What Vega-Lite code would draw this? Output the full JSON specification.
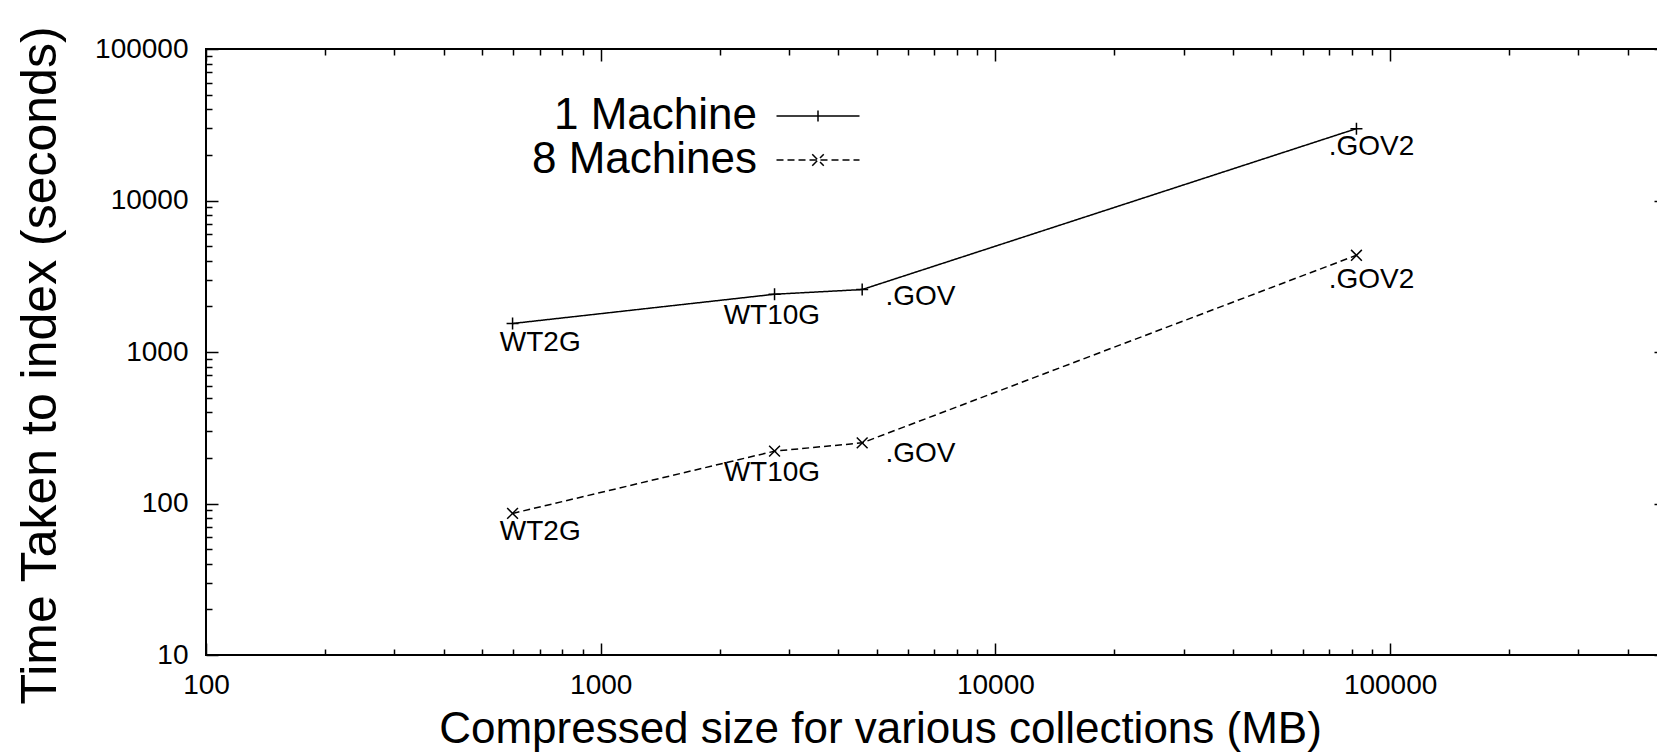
{
  "$schema": "https://vega.github.io/schema/vega-lite/v6.json",
  "width": 1460,
  "height": 606,
  "autosize": {"type": "none"},
  "padding": {"left": 206, "top": 49, "right": -9, "bottom": 99},
  "background": "white",
  "config": {
    "font": "Liberation Sans",
    "view": {"stroke": "black", "strokeWidth": 2},
    "axis": {
      "grid": false,
      "labelColor": "black",
      "titleColor": "black",
      "tickColor": "black",
      "labelFont": "Liberation Sans",
      "titleFont": "Liberation Sans",
      "titleFontWeight": "normal",
      "labelFlush": false,
      "labelOverlap": false,
      "labelBound": false
    }
  },
  "datasets": {
    "series": [
      {"machines": "1 Machine", "size": 598, "time": 1542},
      {"machines": "1 Machine", "size": 2757, "time": 2406},
      {"machines": "1 Machine", "size": 4597, "time": 2584},
      {"machines": "1 Machine", "size": 82170, "time": 29810},
      {"machines": "8 Machines", "size": 598, "time": 86},
      {"machines": "8 Machines", "size": 2757, "time": 221.6},
      {"machines": "8 Machines", "size": 4597, "time": 251.4},
      {"machines": "8 Machines", "size": 82170, "time": 4350}
    ],
    "labels": [
      {"name": "WT2G", "size": 555, "time": 1012},
      {"name": "WT10G", "size": 2049, "time": 1542},
      {"name": ".GOV", "size": 5266, "time": 2036},
      {"name": ".GOV2", "size": 69880, "time": 19870},
      {"name": "WT2G", "size": 555, "time": 57.4},
      {"name": "WT10G", "size": 2049, "time": 140.5},
      {"name": ".GOV", "size": 5266, "time": 188.4},
      {"name": ".GOV2", "size": 69880, "time": 2665}
    ]
  },
  "resolve": {
    "axis": {"x": "independent", "y": "independent"},
    "scale": {"shape": "independent", "strokeDash": "independent"}
  },
  "layer": [
    {
      "data": {"name": "series"},
      "mark": {"type": "line", "stroke": "black", "strokeWidth": 1.5},
      "encoding": {
        "x": {
          "field": "size", "type": "quantitative",
          "scale": {"type": "log", "domain": [100, 500000], "nice": false},
          "axis": {
            "orient": "bottom", "values": [100, 1000, 10000, 100000], "format": "d",
            "ticks": false, "domain": false, "labelFontSize": 28, "labelPadding": 16,
            "title": "Compressed size for various collections (MB)",
            "titleFontSize": 44, "titleX": 674, "titleY": 87,
            "titleBaseline": "alphabetic", "titleAlign": "center"
          }
        },
        "y": {
          "field": "time", "type": "quantitative",
          "scale": {"type": "log", "domain": [10, 100000], "nice": false},
          "axis": {
            "orient": "left", "values": [10, 100, 1000, 10000, 100000], "format": "d",
            "ticks": false, "domain": false, "labelFontSize": 28, "labelPadding": 18,
            "title": "Time Taken to index (seconds)",
            "titleFontSize": 50, "titleX": -151, "titleY": 316, "titleAngle": -90,
            "titleBaseline": "alphabetic", "titleAlign": "center"
          }
        },
        "strokeDash": {
          "field": "machines", "type": "nominal",
          "scale": {"domain": ["1 Machine", "8 Machines"], "range": [[1, 0], [7, 4]]},
          "legend": null
        }
      }
    },
    {
      "data": {"name": "series"},
      "mark": {"type": "point", "filled": false, "stroke": "black", "strokeWidth": 1.5, "size": 144, "opacity": 1},
      "encoding": {
        "x": {
          "field": "size", "type": "quantitative",
          "scale": {"type": "log", "domain": [100, 500000], "nice": false},
          "axis": {
            "orient": "bottom",
            "values": [100, 200, 300, 400, 500, 600, 700, 800, 900, 1000, 2000, 3000, 4000, 5000, 6000, 7000, 8000, 9000, 10000, 20000, 30000, 40000, 50000, 60000, 70000, 80000, 90000, 100000, 200000, 300000, 400000, 500000],
            "labels": false, "domain": false, "ticks": true, "title": null,
            "tickWidth": 1.5,
            "tickSize": {"condition": {"test": "abs(log(datum.value)/LN10 - round(log(datum.value)/LN10)) < 0.001", "value": -12}, "value": -6}
          }
        },
        "y": {
          "field": "time", "type": "quantitative",
          "scale": {"type": "log", "domain": [10, 100000], "nice": false},
          "axis": {
            "orient": "left",
            "values": [10, 20, 30, 40, 50, 60, 70, 80, 90, 100, 200, 300, 400, 500, 600, 700, 800, 900, 1000, 2000, 3000, 4000, 5000, 6000, 7000, 8000, 9000, 10000, 20000, 30000, 40000, 50000, 60000, 70000, 80000, 90000, 100000],
            "labels": false, "domain": false, "ticks": true, "title": null,
            "tickWidth": 1.5,
            "tickSize": {"condition": {"test": "abs(log(datum.value)/LN10 - round(log(datum.value)/LN10)) < 0.001", "value": -12}, "value": -6}
          }
        },
        "shape": {
          "field": "machines", "type": "nominal",
          "scale": {"domain": ["1 Machine", "8 Machines"], "range": ["M-1,0H1M0,-1V1", "M-0.9,-0.9L0.9,0.9M-0.9,0.9L0.9,-0.9"]},
          "legend": null
        }
      }
    },
    {
      "data": {"name": "labels"},
      "mark": {"type": "text", "align": "left", "baseline": "alphabetic", "fontSize": 28, "font": "Liberation Sans", "fill": "black"},
      "encoding": {
        "x": {
          "field": "size", "type": "quantitative",
          "scale": {"type": "log", "domain": [100, 500000], "nice": false},
          "axis": {
            "orient": "top",
            "values": [100, 200, 300, 400, 500, 600, 700, 800, 900, 1000, 2000, 3000, 4000, 5000, 6000, 7000, 8000, 9000, 10000, 20000, 30000, 40000, 50000, 60000, 70000, 80000, 90000, 100000, 200000, 300000, 400000, 500000],
            "labels": false, "domain": false, "ticks": true, "title": null,
            "tickWidth": 1.5,
            "tickSize": {"condition": {"test": "abs(log(datum.value)/LN10 - round(log(datum.value)/LN10)) < 0.001", "value": -12}, "value": -6}
          }
        },
        "y": {
          "field": "time", "type": "quantitative",
          "scale": {"type": "log", "domain": [10, 100000], "nice": false},
          "axis": {
            "orient": "right",
            "values": [10, 20, 30, 40, 50, 60, 70, 80, 90, 100, 200, 300, 400, 500, 600, 700, 800, 900, 1000, 2000, 3000, 4000, 5000, 6000, 7000, 8000, 9000, 10000, 20000, 30000, 40000, 50000, 60000, 70000, 80000, 90000, 100000],
            "labels": false, "domain": false, "ticks": true, "title": null,
            "tickWidth": 1.5,
            "tickSize": {"condition": {"test": "abs(log(datum.value)/LN10 - round(log(datum.value)/LN10)) < 0.001", "value": -12}, "value": -6}
          }
        },
        "text": {"field": "name", "type": "nominal"}
      }
    },
    {
      "data": {"name": "series"},
      "mark": {"type": "point", "filled": false, "stroke": "black", "strokeWidth": 1.5, "size": 100, "opacity": 0},
      "encoding": {
        "x": {
          "field": "size", "type": "quantitative",
          "scale": {"type": "log", "domain": [100, 500000], "nice": false},
          "axis": null
        },
        "y": {
          "field": "time", "type": "quantitative",
          "scale": {"type": "log", "domain": [10, 100000], "nice": false},
          "axis": null
        },
        "shape": {
          "field": "machines", "type": "nominal",
          "scale": {"domain": ["1 Machine", "8 Machines"], "range": ["M-8.3,0H8.3M0,-1.1V1.1", "M-1.15,-1.15L1.15,1.15M-1.15,1.15L1.15,-1.15M-8.3,0H8.3"]},
          "legend": {
            "title": null, "orient": "none", "legendX": 590, "legendY": 45,
            "direction": "vertical", "padding": 0, "rowPadding": 0,
            "symbolSize": 100, "symbolStrokeWidth": 1.5, "symbolStrokeColor": "black",
            "symbolFillColor": "transparent", "symbolOffset": 0, "symbolOpacity": 1,
            "labelFontSize": 44, "labelFont": "Liberation Sans", "labelColor": "black",
            "labelAlign": "right", "labelOffset": -83, "labelLimit": 400
          }
        },
        "strokeDash": {
          "field": "machines", "type": "nominal",
          "scale": {"domain": ["1 Machine", "8 Machines"], "range": [[1, 0], [7, 4]]},
          "legend": {
            "title": null, "orient": "none", "legendX": 590, "legendY": 45,
            "direction": "vertical", "padding": 0, "rowPadding": 0,
            "symbolSize": 100, "symbolStrokeWidth": 1.5, "symbolStrokeColor": "black",
            "symbolFillColor": "transparent", "symbolOffset": 0, "symbolOpacity": 1,
            "labelFontSize": 44, "labelFont": "Liberation Sans", "labelColor": "black",
            "labelAlign": "right", "labelOffset": -83, "labelLimit": 400
          }
        }
      }
    }
  ]
}
